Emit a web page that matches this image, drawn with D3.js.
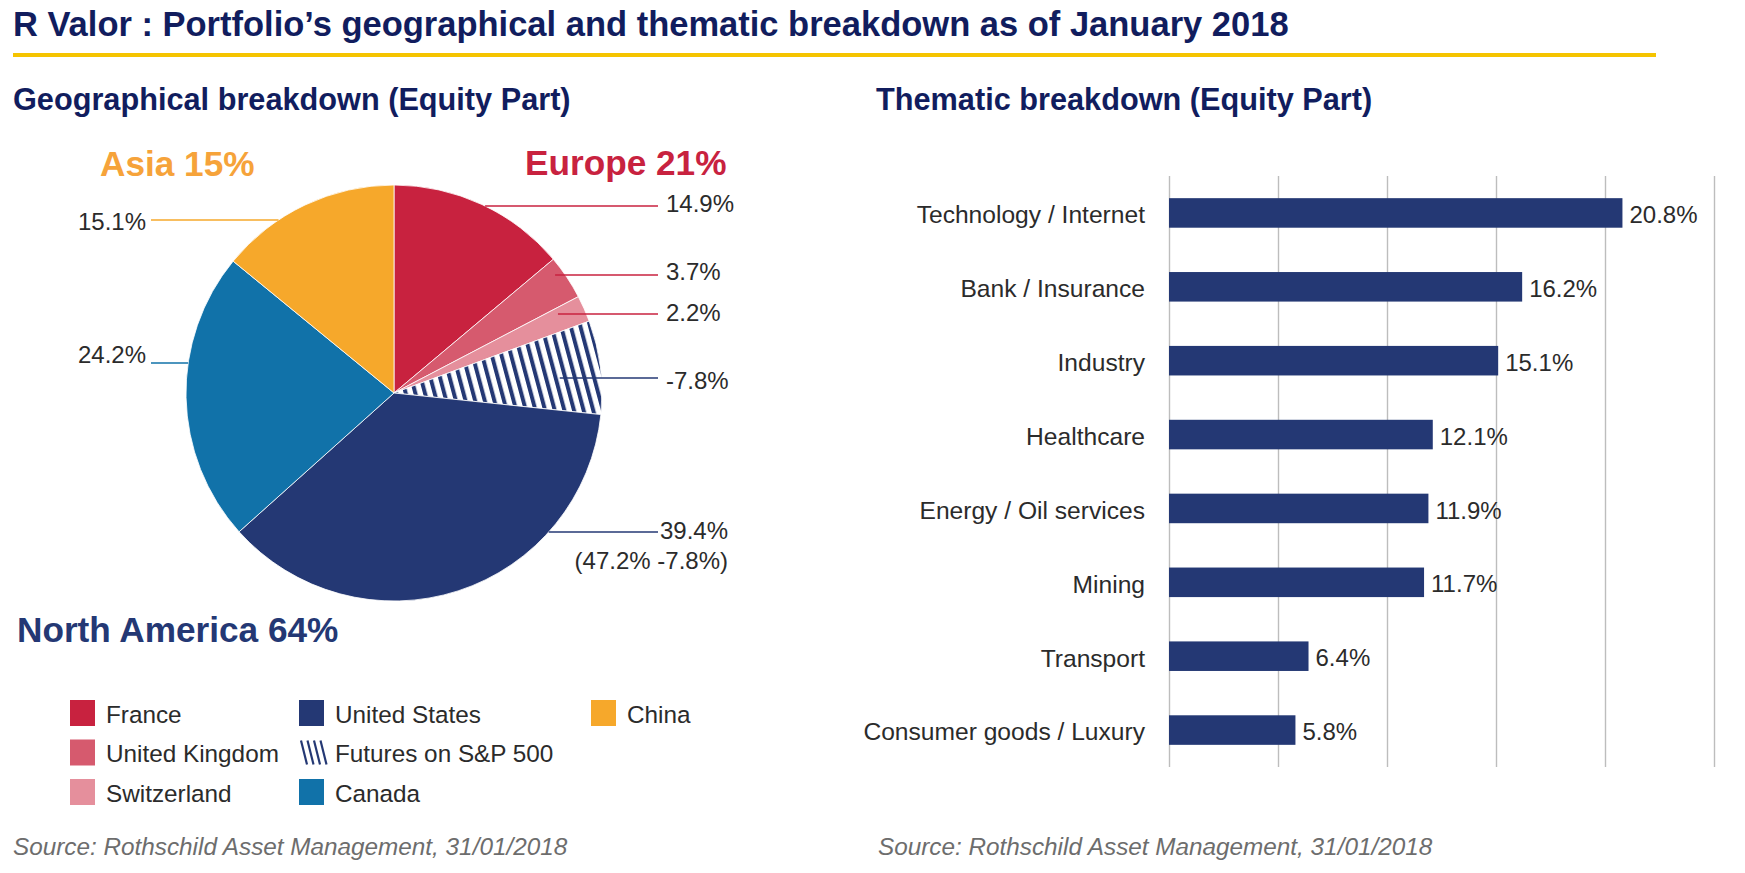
<html>

<head>
  <title>R Valor breakdown</title>
  <style>
    body { margin: 0; background: #fff; }
    text { font-family: "Liberation Sans", Arial, sans-serif; }
  </style>
</head>

<body>
  <script src="https://d3js.org/d3.v7.min.js"></script>
  <script>
    // ---- data ----
    var geoCountries = ["France", "United Kingdom", "Switzerland", "Futures on S&P 500", "United States", "Canada", "China"];
    var geoValues = [14.9, 3.7, 2.2, 7.8, 39.4, 24.2, 15.1];
    var geoLabels = ["14.9%", "3.7%", "2.2%", "-7.8%", "39.4%", "24.2%", "15.1%"];
    var usDetail = "(47.2% -7.8%)";
    var regionLabels = ["Asia 15%", "Europe 21%", "North America 64%"];

    var themes = ["Technology / Internet", "Bank / Insurance", "Industry", "Healthcare",
      "Energy / Oil services", "Mining", "Transport", "Consumer goods / Luxury"];
    var themeValues = [20.8, 16.2, 15.1, 12.1, 11.9, 11.7, 6.4, 5.8];
    var xTicks = [0, 5, 10, 15, 20, 25];

    // ---- styles ----
    var navy = "#243874";
    var sliceColors = ["#c8223f", "#d65a6e", "#e58f9c", "url(#hatch)", navy, "#1172a9", "#f6a82b"];
    var lineColors = ["#c8223f", "#c8223f", "#c8223f", navy, navy, "#1172a9", "#f6a82b"];
    var regionColors = ["#f6a33a", "#c8223f", navy];
    var titleColor = "#111d5e";
    var textColor = "#2b2b2b";

    var W = 1745, H = 873;
    var svg = d3.select("body").append("svg")
      .attr("width", W)
      .attr("height", H);

    var defs = svg.append("defs");
    var pat = defs.append("pattern")
      .attr("id", "hatch")
      .attr("patternUnits", "userSpaceOnUse")
      .attr("width", 9.3)
      .attr("height", 9.3)
      .attr("patternTransform", "rotate(-15)");
    pat.append("rect").attr("width", 9.3).attr("height", 9.3).attr("fill", "#fff");
    pat.append("rect").attr("x", 0).attr("width", 4).attr("height", 9.3).attr("fill", navy);

    // ---- header ----
    svg.append("text")
      .attr("x", 13)
      .attr("y", 36)
      .attr("fill", titleColor)
      .attr("font-weight", "bold")
      .attr("font-size", 34.5)
      .text("R Valor : Portfolio\u2019s geographical and thematic breakdown as of January 2018");

    svg.append("line")
      .attr("x1", 13).attr("x2", 1656)
      .attr("y1", 55).attr("y2", 55)
      .attr("stroke", "#f5c400")
      .attr("stroke-width", 4);

    svg.append("text")
      .attr("x", 13).attr("y", 110)
      .attr("fill", titleColor)
      .attr("font-weight", "bold")
      .attr("font-size", 30.7)
      .text("Geographical breakdown (Equity Part)");

    svg.append("text")
      .attr("x", 876).attr("y", 110)
      .attr("fill", titleColor)
      .attr("font-weight", "bold")
      .attr("font-size", 30.7)
      .text("Thematic breakdown (Equity Part)");

    // ---- pie ----
    var cx = 394, cy = 393, R = 208;
    var pieG = svg.append("g").attr("transform", "translate(" + cx + "," + cy + ")");
    var pie = d3.pie().sort(null).value(function (d) { return d; });
    var arc = d3.arc().innerRadius(0).outerRadius(R);
    var arcs = pie(geoValues);

    pieG.selectAll(".slice")
      .data(arcs)
      .enter()
      .append("path")
      .attr("class", "slice")
      .attr("d", arc)
      .attr("fill", function (d, i) { return sliceColors[i]; })
      .attr("stroke", "#fff")
      .attr("stroke-width", 0.8);

    // leader lines: label row y, radius factor where the line starts, side
    var leaders = [
      { y: 206, r: 1.0, side: 1, tx: 666, ty: 212, anchor: "start" },
      { y: 275, r: 0.96, side: 1, tx: 666, ty: 280, anchor: "start" },
      { y: 314, r: 0.875, side: 1, tx: 666, ty: 321, anchor: "start" },
      { y: 378, r: 0.8, side: 1, tx: 666, ty: 389, anchor: "start" },
      { y: 532, r: 1.0, side: 1, tx: 728, ty: 539, anchor: "end" },
      { y: 363, r: 1.0, side: -1, tx: 146, ty: 363, anchor: "end" },
      { y: 220, r: 1.0, side: -1, tx: 146, ty: 230, anchor: "end" }
    ];

    svg.selectAll(".leader")
      .data(leaders)
      .enter()
      .append("line")
      .attr("class", "leader")
      .attr("x1", function (d) {
        var rr = d.r * R, dy = d.y - cy;
        return cx + d.side * Math.sqrt(Math.max(0, rr * rr - dy * dy));
      })
      .attr("x2", function (d) { return d.side > 0 ? 658 : 151; })
      .attr("y1", function (d) { return d.y; })
      .attr("y2", function (d) { return d.y; })
      .attr("stroke", function (d, i) { return lineColors[i]; })
      .attr("stroke-width", 1.5);

    svg.selectAll(".plabel")
      .data(leaders)
      .enter()
      .append("text")
      .attr("class", "plabel")
      .attr("x", function (d) { return d.tx; })
      .attr("y", function (d) { return d.ty; })
      .attr("text-anchor", function (d) { return d.anchor; })
      .attr("font-size", 24)
      .attr("fill", textColor)
      .text(function (d, i) { return geoLabels[i]; });

    svg.append("text")
      .attr("x", 728).attr("y", 569)
      .attr("text-anchor", "end")
      .attr("font-size", 24)
      .attr("fill", textColor)
      .text(usDetail);

    var regionPos = [[100, 176], [525, 175], [17, 642]];
    svg.selectAll(".region")
      .data(regionLabels)
      .enter()
      .append("text")
      .attr("class", "region")
      .attr("x", function (d, i) { return regionPos[i][0]; })
      .attr("y", function (d, i) { return regionPos[i][1]; })
      .attr("font-size", 35.2)
      .attr("font-weight", "bold")
      .attr("fill", function (d, i) { return regionColors[i]; })
      .text(function (d) { return d; });

    // ---- legend ----
    var legendOrder = [0, 1, 2, 4, 3, 5, 6];
    var legendCols = [70, 299, 591];
    var legend = svg.selectAll(".legend")
      .data(legendOrder)
      .enter()
      .append("g")
      .attr("class", "legend")
      .attr("transform", function (d, k) {
        return "translate(" + legendCols[Math.floor(k / 3)] + "," + (700 + (k % 3) * 39.5) + ")";
      });

    legend.each(function (idx) {
      var g = d3.select(this);
      if (idx === 3) {
        for (var s = 0; s < 4; s++) {
          g.append("line")
            .attr("x1", 2 + s * 6.5).attr("x2", 8 + s * 6.5)
            .attr("y1", 1).attr("y2", 25)
            .attr("stroke", navy)
            .attr("stroke-width", 2.2);
        }
      } else {
        g.append("rect")
          .attr("width", 25).attr("height", 26)
          .attr("fill", sliceColors[idx]);
      }
      g.append("text")
        .attr("x", 36)
        .attr("y", 22.5)
        .attr("font-size", 24.3)
        .attr("fill", textColor)
        .text(geoCountries[idx]);
    });

    // ---- bar chart ----
    var x = d3.scaleLinear().domain([0, 25]).range([1169, 1714]);
    var y = d3.scaleBand()
      .domain(themes)
      .range([176, 767])
      .paddingInner(0.6)
      .paddingOuter(0.3);

    var grid = d3.axisBottom(x)
      .tickValues(xTicks)
      .tickSize(-(767 - 176))
      .tickFormat("");
    var gridG = svg.append("g")
      .attr("class", "grid")
      .attr("transform", "translate(0,767)")
      .call(grid);
    gridG.select(".domain").remove();
    gridG.selectAll(".tick line")
      .attr("stroke", "#bdbdbd")
      .attr("stroke-width", 1.4);

    var yAxis = d3.axisLeft(y).tickSize(0).tickPadding(0);
    var yG = svg.append("g")
      .attr("transform", "translate(1145,0)")
      .call(yAxis);
    yG.select(".domain").remove();
    yG.selectAll(".tick text")
      .attr("font-family", "Liberation Sans, Arial, sans-serif")
      .attr("font-size", 24.6)
      .attr("fill", textColor)
      .attr("dy", "0.42em");

    svg.selectAll(".bar")
      .data(themeValues)
      .enter()
      .append("rect")
      .attr("class", "bar")
      .attr("x", x(0))
      .attr("y", function (d, i) { return y(themes[i]); })
      .attr("width", function (d) { return x(d) - x(0); })
      .attr("height", y.bandwidth())
      .attr("fill", navy);

    svg.selectAll(".val")
      .data(themeValues)
      .enter()
      .append("text")
      .attr("class", "val")
      .attr("x", function (d) { return x(d) + 7; })
      .attr("y", function (d, i) { return y(themes[i]) + y.bandwidth() / 2; })
      .attr("dy", "0.42em")
      .attr("font-size", 24)
      .attr("fill", textColor)
      .text(function (d) { return d.toFixed(1) + "%"; });

    // ---- sources ----
    [13, 878].forEach(function (sx) {
      svg.append("text")
        .attr("x", sx).attr("y", 855)
        .attr("font-size", 24.3)
        .attr("font-style", "italic")
        .attr("fill", "#6d6d6d")
        .text("Source: Rothschild Asset Management, 31/01/2018");
    });
  </script>
</body>

</html>
